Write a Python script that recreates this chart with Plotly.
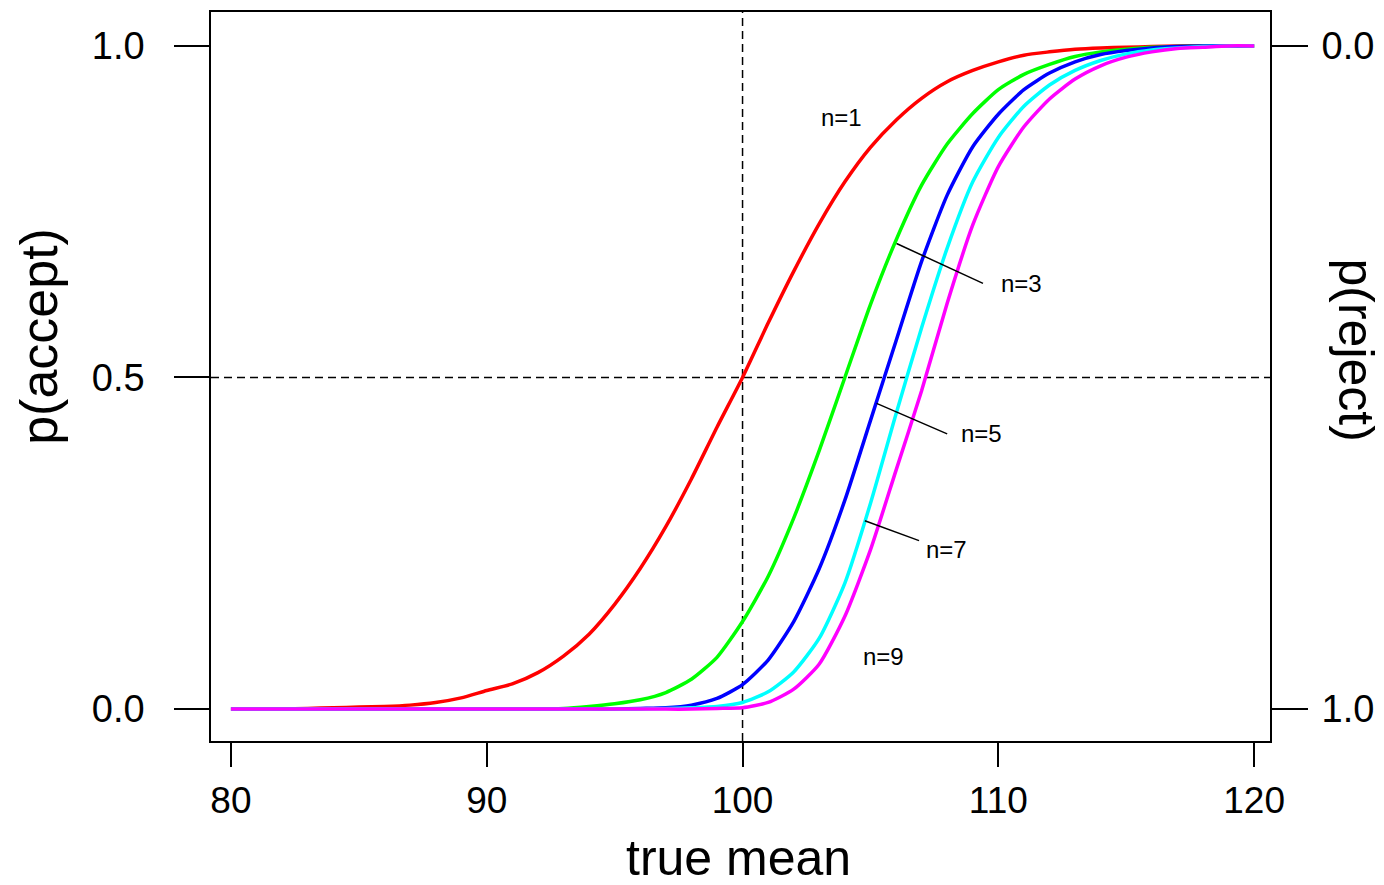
import plotly.graph_objects as go

# ---- data ----
true_mean = list(range(80, 121))

p_accept_n1 = [0, 0, 0, 0.001, 0.002, 0.003, 0.004, 0.006, 0.010, 0.017,
               0.028, 0.038, 0.055, 0.080, 0.113, 0.158, 0.212, 0.275, 0.347, 0.425,
               0.500, 0.582, 0.660, 0.732, 0.795, 0.847, 0.888, 0.921, 0.946, 0.963,
               0.976, 0.986, 0.991, 0.995, 0.997, 0.998, 0.999, 1, 1, 1, 1]
p_accept_n3 = [0, 0, 0, 0, 0, 0, 0, 0, 0, 0,
               0, 0, 0, 0.001, 0.004, 0.008, 0.014, 0.025, 0.045, 0.078,
               0.132, 0.200, 0.288, 0.390, 0.500, 0.610, 0.707, 0.790, 0.852, 0.898,
               0.934, 0.957, 0.972, 0.984, 0.991, 0.995, 0.998, 0.999, 1, 1, 1]
p_accept_n5 = [0, 0, 0, 0, 0, 0, 0, 0, 0, 0,
               0, 0, 0, 0, 0, 0, 0.001, 0.002, 0.006, 0.016,
               0.037, 0.074, 0.132, 0.212, 0.315, 0.435, 0.555, 0.675, 0.775, 0.848,
               0.897, 0.934, 0.959, 0.976, 0.987, 0.993, 0.997, 0.999, 1, 1, 1]
p_accept_n7 = [0, 0, 0, 0, 0, 0, 0, 0, 0, 0,
               0, 0, 0, 0, 0, 0, 0, 0.001, 0.002, 0.004,
               0.010, 0.026, 0.056, 0.107, 0.190, 0.310, 0.445, 0.575, 0.695, 0.795,
               0.862, 0.909, 0.941, 0.963, 0.978, 0.988, 0.994, 0.997, 0.999, 1, 1]
p_accept_n9 = [0, 0, 0, 0, 0, 0, 0, 0, 0, 0,
               0, 0, 0, 0, 0, 0, 0, 0, 0, 0.001,
               0.002, 0.010, 0.030, 0.068, 0.140, 0.240, 0.360, 0.480, 0.612, 0.730,
               0.818, 0.878, 0.920, 0.950, 0.970, 0.983, 0.991, 0.996, 0.998, 1, 1]

series_names = ["n=1", "n=3", "n=5", "n=7", "n=9"]
series_values = [p_accept_n1, p_accept_n3, p_accept_n5, p_accept_n7, p_accept_n9]
series_colors = ["#FF0000", "#00FF00", "#0000FF", "#00FFFF", "#FF00FF"]

x_ticks = [80, 90, 100, 110, 120]
y_ticks = [0, 0.5, 1]
y_tick_text = ["0.0", "0.5", "1.0"]
y2_ticks = [0, 1]
y2_tick_text = ["0.0", "1.0"]

ref_mean = 100
ref_p = 0.5

# label text positions (data coords) and optional leader lines
label_text = ["n=1", "n=3", "n=5", "n=7", "n=9"]
label_x = [102.99, 110.01, 108.46, 107.10, 104.63]
label_y = [0.892, 0.641, 0.415, 0.241, 0.080]
leader_x0 = [None, 106.02, 105.24, 104.78, None]
leader_y0 = [None, 0.702, 0.461, 0.284, None]
leader_x1 = [None, 109.40, 108.00, 106.90, None]
leader_y1 = [None, 0.642, 0.415, 0.254, None]

FONT = "Liberation Sans, Arial, Helvetica, sans-serif"

fig = go.Figure()
for name, vals, col in zip(series_names, series_values, series_colors):
    fig.add_trace(go.Scatter(x=true_mean, y=vals, mode="lines", name=name,
                             line=dict(color=col, width=3.5, shape="spline", smoothing=0.6),
                             showlegend=False, hoverinfo="skip"))

# invisible trace so the right-hand axis is drawn
fig.add_trace(go.Scatter(x=[true_mean[0]], y=[1 - p_accept_n1[0]], yaxis="y2",
                         mode="markers", marker=dict(opacity=0), showlegend=False,
                         hoverinfo="skip"))

shapes = [
    dict(type="line", xref="x", yref="paper", x0=ref_mean, x1=ref_mean, y0=0, y1=1,
         line=dict(color="black", width=1.5, dash="8px,5px"), layer="below"),
    dict(type="line", xref="paper", yref="y", x0=0, x1=1, y0=ref_p, y1=ref_p,
         line=dict(color="black", width=1.5, dash="8px,5px"), layer="below"),
]
annotations = []
for t, lx, ly, a0, b0, a1, b1 in zip(label_text, label_x, label_y,
                                     leader_x0, leader_y0, leader_x1, leader_y1):
    annotations.append(dict(x=lx, y=ly, xref="x", yref="y", text=t, showarrow=False,
                            xanchor="left", yanchor="middle",
                            font=dict(family=FONT, size=24, color="black")))
    if a0 is not None:
        shapes.append(dict(type="line", xref="x", yref="y", x0=a0, y0=b0, x1=a1, y1=b1,
                           line=dict(color="black", width=1.5)))

# axis titles
annotations += [
    dict(text="true mean", xref="paper", yref="paper", x=0.498, y=-0.160,
         showarrow=False, xanchor="center", yanchor="middle",
         font=dict(family=FONT, size=50, color="black")),
    dict(text="p(accept)", xref="paper", yref="paper", x=-0.162, y=0.555,
         showarrow=False, xanchor="center", yanchor="middle", textangle=-90,
         font=dict(family=FONT, size=52, color="black")),
    dict(text="p(reject)", xref="paper", yref="paper", x=1.081, y=0.536,
         showarrow=False, xanchor="center", yanchor="middle", textangle=90,
         font=dict(family=FONT, size=50, color="black")),
]

fig.update_layout(
    width=1384, height=885,
    margin=dict(l=211, r=111, t=10, b=144),
    paper_bgcolor="white", plot_bgcolor="white",
    shapes=shapes, annotations=annotations,
    xaxis=dict(range=[79.22, 120.62], tickvals=x_ticks, ticks="outside", ticklen=24,
               tickwidth=1.5, tickcolor="black", showline=True, linecolor="black",
               linewidth=1.5, mirror=True, showgrid=False, zeroline=False,
               ticklabelstandoff=2,
               tickfont=dict(family=FONT, size=37, color="black")),
    yaxis=dict(range=[-0.0481, 1.0511], tickvals=y_ticks, ticktext=y_tick_text,
               ticks="outside", ticklen=35, tickwidth=1.5, tickcolor="black",
               showline=True, linecolor="black", linewidth=1.5, mirror=True,
               showgrid=False, zeroline=False, ticklabelstandoff=22,
               tickfont=dict(family=FONT, size=38, color="black")),
    yaxis2=dict(overlaying="y", side="right", range=[1.0481, -0.0511],
                tickvals=y2_ticks, ticktext=y2_tick_text, ticks="outside", ticklen=37,
                tickwidth=1.5, tickcolor="black", showline=False, showgrid=False,
                zeroline=False, ticklabelstandoff=6,
                tickfont=dict(family=FONT, size=38, color="black")),
)

fig.write_html("out.html")
